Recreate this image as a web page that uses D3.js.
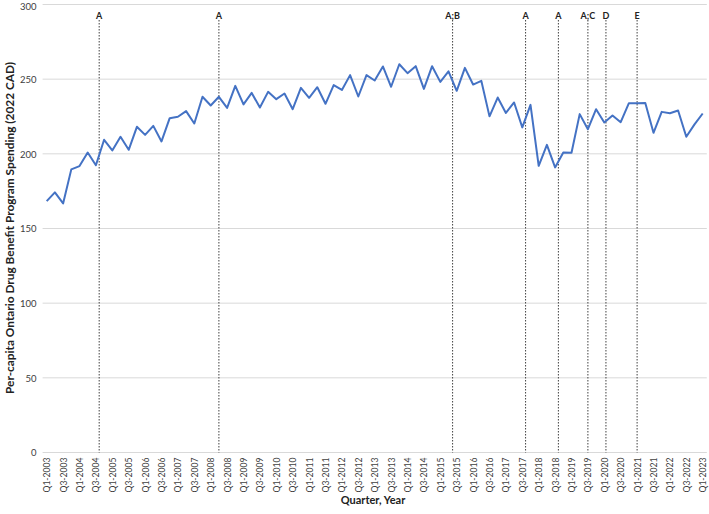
<!DOCTYPE html>
<html>
<head>
<meta charset="utf-8">
<script src="https://cdn.jsdelivr.net/npm/d3@7"></script>
<style>
  html, body { margin: 0; padding: 0; background: #fff; }
  svg { display: block; font-family: Lato, "Open Sans", sans-serif; }
</style>
</head>
<body>
<svg id="chart" width="709" height="514"></svg>
<script>
const quarters = [
  "Q1-2003","Q2-2003","Q3-2003","Q4-2003","Q1-2004","Q2-2004","Q3-2004","Q4-2004",
  "Q1-2005","Q2-2005","Q3-2005","Q4-2005","Q1-2006","Q2-2006","Q3-2006","Q4-2006",
  "Q1-2007","Q2-2007","Q3-2007","Q4-2007","Q1-2008","Q2-2008","Q3-2008","Q4-2008",
  "Q1-2009","Q2-2009","Q3-2009","Q4-2009","Q1-2010","Q2-2010","Q3-2010","Q4-2010",
  "Q1-2011","Q2-2011","Q3-2011","Q4-2011","Q1-2012","Q2-2012","Q3-2012","Q4-2012",
  "Q1-2013","Q2-2013","Q3-2013","Q4-2013","Q1-2014","Q2-2014","Q3-2014","Q4-2014",
  "Q1-2015","Q2-2015","Q3-2015","Q4-2015","Q1-2016","Q2-2016","Q3-2016","Q4-2016",
  "Q1-2017","Q2-2017","Q3-2017","Q4-2017","Q1-2018","Q2-2018","Q3-2018","Q4-2018",
  "Q1-2019","Q2-2019","Q3-2019","Q4-2019","Q1-2020","Q2-2020","Q3-2020","Q4-2020",
  "Q1-2021","Q2-2021","Q3-2021","Q4-2021","Q1-2022","Q2-2022","Q3-2022","Q4-2022",
  "Q1-2023"
];
const spending = [
  168.3,174.2,166.8,189.6,191.8,200.9,192.4,209.4,
  202.3,211.4,202.7,218.1,212.7,218.7,208.3,223.9,
  224.8,228.6,220.3,238.2,232.4,238.2,230.8,245.5,
  233.1,240.8,231.0,241.5,236.6,240.4,229.9,244.2,
  237.5,244.6,233.5,246.0,242.8,252.7,238.4,252.7,
  249.1,258.5,244.9,260.0,254.0,258.7,243.5,258.7,
  248.2,255.2,242.2,257.6,246.4,248.9,225.1,237.7,
  227.4,234.4,217.7,232.8,192.0,206.0,190.9,200.9,
  200.7,226.6,216.5,229.9,221.0,225.7,221.2,233.9,
  233.9,234.1,214.1,228.1,227.2,229.0,211.4,219.7,
  227.0
];
// tick labels shown every second quarter (Q1 and Q3)
const tickLabels = quarters.filter(q => q.startsWith("Q1") || q.startsWith("Q3"));
const yTicks = [0, 50, 100, 150, 200, 250, 300];
// policy event markers (position in quarter index units) and their labels
const eventPositions = [6.4, 21, 49.5, 58.4, 62.4, 66, 68.2, 72];
const eventLabels = ["A", "A", "A;B", "A", "A", "A;C", "D", "E"];

const svg = d3.select("#chart");
const mLeft = 42.6, mRight = 706.8, mTop = 4.5, mBottom = 452.5;

const x = d3.scaleLinear().domain([-0.5, quarters.length - 0.5]).range([mLeft, mRight]);
const y = d3.scaleLinear().domain([0, 300]).range([mBottom, mTop]);

// gridlines
svg.append("g").selectAll("line").data(yTicks).join("line")
  .attr("x1", mLeft).attr("x2", mRight)
  .attr("y1", d => y(d)).attr("y2", d => y(d))
  .attr("stroke", "#d9d9d9").attr("stroke-width", 1);

// y axis labels
const yAxis = d3.axisLeft(y).tickValues(yTicks).tickSize(0).tickPadding(6);
const gy = svg.append("g").attr("transform", `translate(${mLeft},0)`).call(yAxis);
gy.select(".domain").remove();
gy.selectAll("text").attr("font-size", 9.5).attr("fill", "#404040")
  .attr("font-family", "Lato, sans-serif")
  .attr("dy", d => d === 300 ? "0.55em" : "0.35em");

// x axis labels
const idxOf = q => quarters.indexOf(q);
const gx = svg.append("g");
gx.selectAll("text").data(tickLabels).join("text")
  .attr("transform", d => `translate(${x(idxOf(d)) + 3.5},${mBottom + 5}) rotate(-90)`)
  .attr("text-anchor", "end")
  .attr("font-size", 9.5)
  .attr("textLength", 35)
  .attr("lengthAdjust", "spacingAndGlyphs")
  .attr("fill", "#404040")
  .text(d => d);

// event vertical lines
const ev = svg.append("g");
ev.selectAll("line").data(eventPositions).join("line")
  .attr("x1", d => x(d)).attr("x2", d => x(d))
  .attr("y1", 20).attr("y2", mBottom)
  .attr("stroke", "#404040").attr("stroke-width", 1)
  .attr("stroke-dasharray", "1.5,1.5");
ev.selectAll("text").data(eventPositions).join("text")
  .attr("x", d => x(d)).attr("y", 19)
  .attr("text-anchor", "middle")
  .attr("font-size", 9).attr("font-weight", "bold").attr("fill", "#222")
  .text((d, i) => eventLabels[i]);

// data line
const line = d3.line().x((d, i) => x(i)).y(d => y(d));
svg.append("path").datum(spending)
  .attr("d", line)
  .attr("fill", "none")
  .attr("stroke", "#4472C4")
  .attr("stroke-width", 2)
  .attr("stroke-linejoin", "round");

// axis titles
svg.append("text")
  .attr("transform", `translate(14,228) rotate(-90)`)
  .attr("text-anchor", "middle")
  .attr("font-size", 11).attr("font-weight", "bold").attr("fill", "#222")
  .attr("textLength", 332)
  .attr("lengthAdjust", "spacingAndGlyphs")
  .text("Per-capita Ontario Drug Benefit Program Spending (2022 CAD)");

svg.append("text")
  .attr("x", 373).attr("y", 504)
  .attr("text-anchor", "middle")
  .attr("font-size", 11).attr("font-weight", "bold").attr("fill", "#222")
  .text("Quarter, Year");
</script>
</body>
</html>
